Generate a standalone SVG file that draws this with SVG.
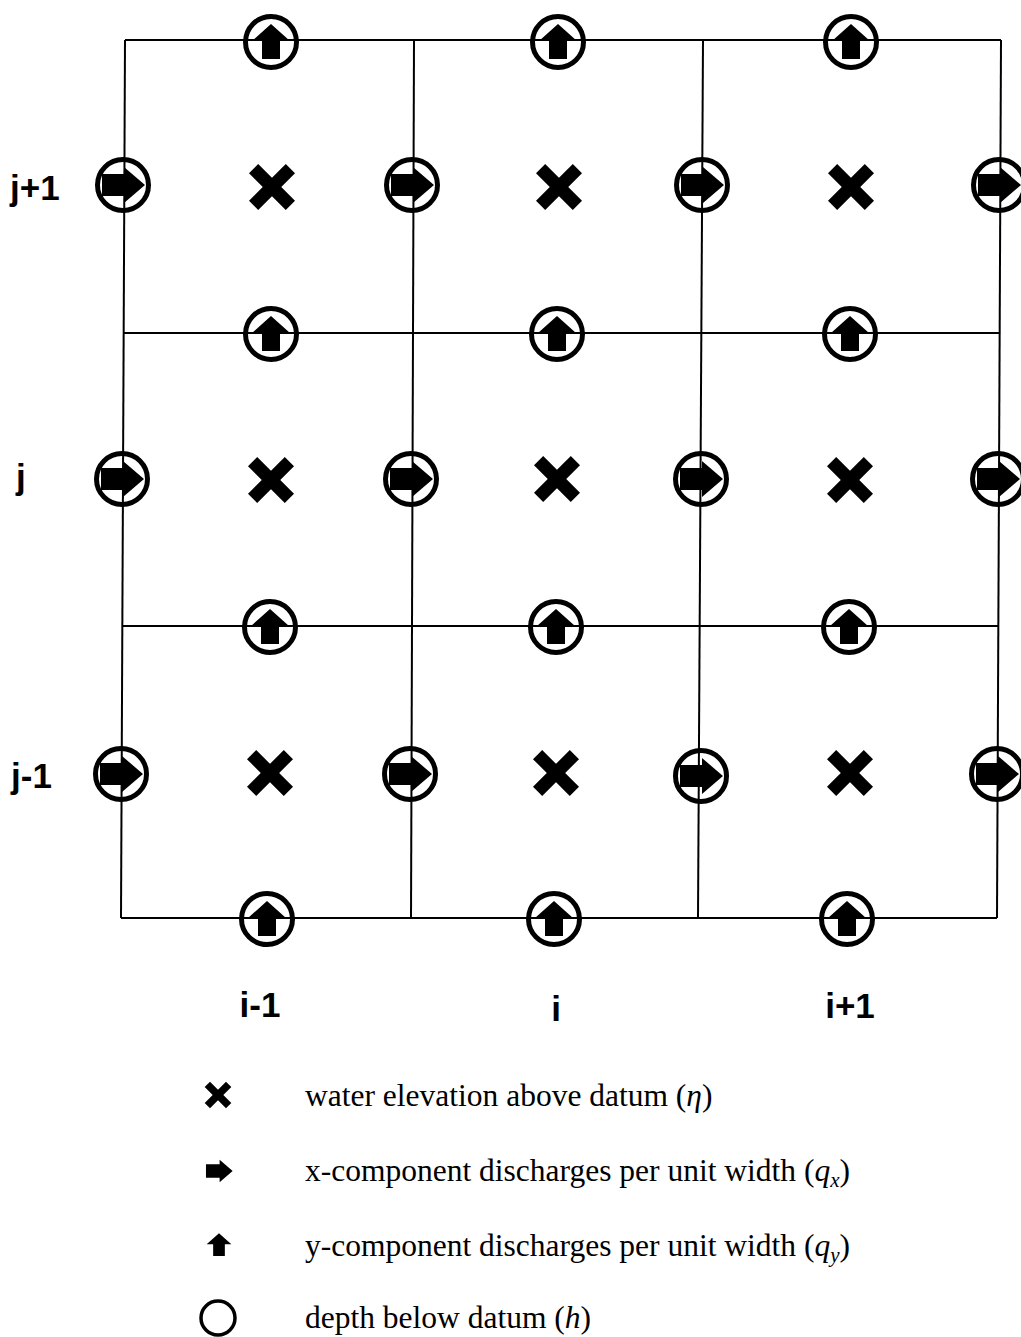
<svg xmlns="http://www.w3.org/2000/svg" xmlns:xlink="http://www.w3.org/1999/xlink" width="1021" height="1337" viewBox="0 0 1021 1337">
<style>
.grid{stroke:#000;stroke-width:2;fill:none}
.ring{fill:none;stroke:#000;stroke-width:5}
.blk{fill:#000}
.lbl{font-family:"Liberation Sans",Arial,sans-serif;font-weight:bold;font-size:35px;fill:#000}
.leg{font-family:"Liberation Serif","Times New Roman",serif;font-size:31.5px;fill:#000}
</style>
<defs>
<path id="rarrow" d="M-21,-11 L1,-11 L1,-18 L22,0 L1,18 L1,11 L-21,11 Z"/>
<path id="uarrow" d="M-9,17 L-9,-1 L-19,-1 L0,-18 L19,-1 L9,-1 L9,17 Z"/>
<g id="cross"><rect x="-26" y="-6.5" width="52" height="13" transform="rotate(45)"/><rect x="-26" y="-6.5" width="52" height="13" transform="rotate(-45)"/></g>
<g id="qx"><circle r="25.5" class="ring"/><use xlink:href="#rarrow" class="blk"/></g>
<g id="qy"><circle r="25.5" class="ring"/><use xlink:href="#uarrow" class="blk"/></g>
</defs>
<rect width="1021" height="1337" fill="#fff"/>
<g id="connectors">
<line class="grid" x1="125" y1="40" x2="1001" y2="40"/>
<line class="grid" x1="123" y1="333" x2="999" y2="333"/>
<line class="grid" x1="122" y1="626" x2="998" y2="626"/>
<line class="grid" x1="121" y1="918" x2="997" y2="918"/>
<line class="grid" x1="125" y1="40" x2="121" y2="918"/>
<line class="grid" x1="414" y1="40" x2="411" y2="918"/>
<line class="grid" x1="703" y1="40" x2="698" y2="918"/>
<line class="grid" x1="1001" y1="40" x2="997" y2="918"/>
</g>
<g id="qy-nodes">
<g id="qy-1-4"><use xlink:href="#qy" x="271" y="42"/></g>
<g id="qy-2-4"><use xlink:href="#qy" x="558" y="42"/></g>
<g id="qy-3-4"><use xlink:href="#qy" x="851" y="42"/></g>
<g id="qy-1-3"><use xlink:href="#qy" x="271" y="334"/></g>
<g id="qy-2-3"><use xlink:href="#qy" x="557" y="334"/></g>
<g id="qy-3-3"><use xlink:href="#qy" x="850" y="334"/></g>
<g id="qy-1-2"><use xlink:href="#qy" x="270" y="627"/></g>
<g id="qy-2-2"><use xlink:href="#qy" x="556" y="627"/></g>
<g id="qy-3-2"><use xlink:href="#qy" x="849" y="627"/></g>
<g id="qy-1-1"><use xlink:href="#qy" x="267" y="919"/></g>
<g id="qy-2-1"><use xlink:href="#qy" x="554" y="919"/></g>
<g id="qy-3-1"><use xlink:href="#qy" x="847" y="919"/></g>
</g>
<g id="qx-nodes">
<g id="qx-1-3"><use xlink:href="#qx" x="123" y="185"/></g>
<g id="qx-2-3"><use xlink:href="#qx" x="412" y="185"/></g>
<g id="qx-3-3"><use xlink:href="#qx" x="702" y="185"/></g>
<g id="qx-4-3"><use xlink:href="#qx" x="999" y="185"/></g>
<g id="qx-1-2"><use xlink:href="#qx" x="122" y="479"/></g>
<g id="qx-2-2"><use xlink:href="#qx" x="411" y="479"/></g>
<g id="qx-3-2"><use xlink:href="#qx" x="701" y="479"/></g>
<g id="qx-4-2"><use xlink:href="#qx" x="998" y="479"/></g>
<g id="qx-1-1"><use xlink:href="#qx" x="121" y="774"/></g>
<g id="qx-2-1"><use xlink:href="#qx" x="410" y="774"/></g>
<g id="qx-3-1"><use xlink:href="#qx" x="701" y="776"/></g>
<g id="qx-4-1"><use xlink:href="#qx" x="997" y="774"/></g>
</g>
<g id="eta-nodes" class="blk">
<g id="eta-1-3"><use xlink:href="#cross" x="272" y="187"/></g>
<g id="eta-2-3"><use xlink:href="#cross" x="559" y="187"/></g>
<g id="eta-3-3"><use xlink:href="#cross" x="851" y="187"/></g>
<g id="eta-1-2"><use xlink:href="#cross" x="271" y="480"/></g>
<g id="eta-2-2"><use xlink:href="#cross" x="557" y="479"/></g>
<g id="eta-3-2"><use xlink:href="#cross" x="850" y="480"/></g>
<g id="eta-1-1"><use xlink:href="#cross" x="270" y="773"/></g>
<g id="eta-2-1"><use xlink:href="#cross" x="556" y="773"/></g>
<g id="eta-3-1"><use xlink:href="#cross" x="850" y="773"/></g>
</g>
<g id="axis-labels">
<text class="lbl" x="10" y="200">j+1</text>
<text class="lbl" x="16" y="489">j</text>
<text class="lbl" x="11" y="788">j-1</text>
<text class="lbl" x="260" y="1017" text-anchor="middle">i-1</text>
<text class="lbl" x="556" y="1021" text-anchor="middle">i</text>
<text class="lbl" x="850" y="1018" text-anchor="middle">i+1</text>
</g>
<g id="legend">
<g id="legend-eta"><use xlink:href="#cross" class="blk" transform="translate(218,1095) scale(0.58)"/><text class="leg" x="305" y="1106">water elevation above datum (<tspan font-style="italic">η</tspan>)</text></g>
<g id="legend-qx"><use xlink:href="#rarrow" class="blk" transform="translate(219,1171) scale(0.62)"/><text class="leg" x="305" y="1181">x-component discharges per unit width (<tspan font-style="italic">q<tspan font-size="21" dy="6">x</tspan></tspan><tspan dy="-6">)</tspan></text></g>
<g id="legend-qy"><use xlink:href="#uarrow" class="blk" transform="translate(219,1245) scale(0.65)"/><text class="leg" x="305" y="1256">y-component discharges per unit width (<tspan font-style="italic">q<tspan font-size="21" dy="6">y</tspan></tspan><tspan dy="-6">)</tspan></text></g>
<g id="legend-h"><circle cx="218" cy="1318" r="17" fill="none" stroke="#000" stroke-width="3.5"/><text class="leg" x="305" y="1328">depth below datum (<tspan font-style="italic">h</tspan>)</text></g>
</g>
</svg>
